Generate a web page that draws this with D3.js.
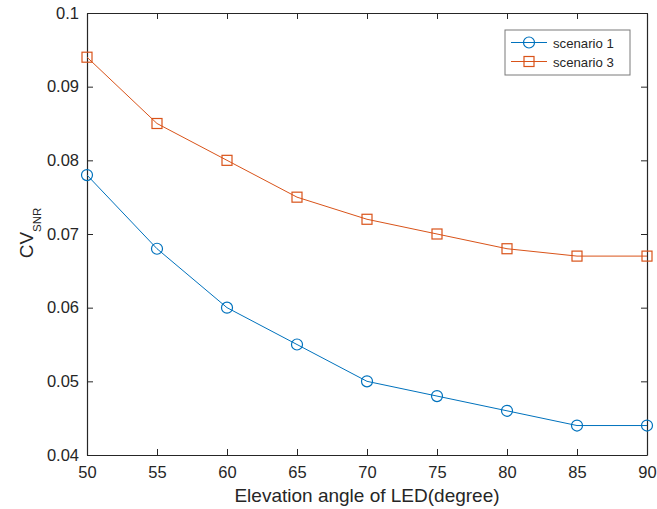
<!DOCTYPE html>
<html>
<head>
<meta charset="utf-8">
<script src="https://cdn.jsdelivr.net/npm/d3@7"></script>
<style>
body { margin: 0; background: #fff; }
text { font-family: "Liberation Sans", Arial, sans-serif; fill: #262626; }
</style>
</head>
<body>
<svg id="chart" width="657" height="509"></svg>
<script>
var angles = [50, 55, 60, 65, 70, 75, 80, 85, 90];
var scenario1 = [0.078, 0.068, 0.060, 0.055, 0.050, 0.048, 0.046, 0.044, 0.044];
var scenario3 = [0.094, 0.085, 0.080, 0.075, 0.072, 0.070, 0.068, 0.067, 0.067];
var xTicks = [50, 55, 60, 65, 70, 75, 80, 85, 90];
var yTicks = [0.04, 0.05, 0.06, 0.07, 0.08, 0.09, 0.1];

var svg = d3.select("#chart");
let plotLeft = 87, plotRight = 647, plotTop = 13, plotBottom = 455;

var x = d3.scaleLinear().domain([50, 90]).range([plotLeft, plotRight]);
var y = d3.scaleLinear().domain([0.04, 0.1]).range([plotBottom, plotTop]);

// axes with inward ticks, mirrored on top and right
svg.append("g")
	.attr("transform", `translate(0,${plotBottom})`)
	.call(d3.axisBottom(x).tickValues(xTicks).tickSizeInner(-6).tickSizeOuter(0).tickPadding(11))
	.call(g => g.selectAll("text").attr("font-size", 16.5).attr("dy", "0.71em"));
svg.append("g")
	.attr("transform", `translate(${plotLeft},0)`)
	.call(d3.axisLeft(y).tickValues(yTicks).tickFormat(d => String(+d.toFixed(2))).tickSizeInner(-6).tickSizeOuter(0).tickPadding(8))
	.call(g => g.selectAll("text").attr("font-size", 16.5));
svg.append("g")
	.attr("transform", `translate(0,${plotTop})`)
	.call(d3.axisTop(x).tickValues(xTicks).tickSizeInner(-6).tickSizeOuter(0).tickFormat(""));
svg.append("g")
	.attr("transform", `translate(${plotRight},0)`)
	.call(d3.axisRight(y).tickValues(yTicks).tickSizeInner(-6).tickSizeOuter(0).tickFormat(""));
svg.selectAll(".domain, .tick line").attr("stroke", "#262626").attr("stroke-width", 1);
svg.selectAll(".domain").attr("stroke-width", 1.2);

var line = d3.line().x((d, i) => x(angles[i])).y(d => y(d));

svg.append("path").datum(scenario1)
	.attr("d", line).attr("fill", "none").attr("stroke", "#0072BD").attr("stroke-width", 1);
svg.append("path").datum(scenario3)
	.attr("d", line).attr("fill", "none").attr("stroke", "#D95319").attr("stroke-width", 1);

svg.selectAll(".m1").data(scenario1).enter().append("circle")
	.attr("class", "m1")
	.attr("cx", (d, i) => x(angles[i])).attr("cy", d => y(d)).attr("r", 5.5)
	.attr("fill", "none").attr("stroke", "#0072BD").attr("stroke-width", 1.2);
svg.selectAll(".m3").data(scenario3).enter().append("rect")
	.attr("class", "m3")
	.attr("x", (d, i) => x(angles[i]) - 5).attr("y", d => y(d) - 5)
	.attr("width", 10).attr("height", 10)
	.attr("fill", "none").attr("stroke", "#D95319").attr("stroke-width", 1.2);

// axis titles
svg.append("text")
	.attr("x", (plotLeft + plotRight) / 2).attr("y", 502)
	.attr("text-anchor", "middle").attr("font-size", 19)
	.text("Elevation angle of LED(degree)");
var yt = svg.append("text")
	.attr("transform", "translate(33,233) rotate(-90)")
	.attr("text-anchor", "middle").attr("font-size", 19);
yt.append("tspan").text("CV");
yt.append("tspan").attr("font-size", 11.5).attr("dy", 8).text("SNR");

// legend
var lg = svg.append("g").attr("transform", "translate(505,30)");
lg.append("rect").attr("width", 125).attr("height", 45)
	.attr("fill", "#fff").attr("stroke", "#7a7a7a").attr("stroke-width", 1);
lg.append("line").attr("x1", 6).attr("x2", 42).attr("y1", 12.5).attr("y2", 12.5).attr("stroke", "#0072BD");
lg.append("circle").attr("cx", 24).attr("cy", 12.5).attr("r", 5.5)
	.attr("fill", "none").attr("stroke", "#0072BD").attr("stroke-width", 1.2);
lg.append("line").attr("x1", 6).attr("x2", 42).attr("y1", 31.5).attr("y2", 31.5).attr("stroke", "#D95319");
lg.append("rect").attr("x", 19).attr("y", 26.5).attr("width", 10).attr("height", 10)
	.attr("fill", "none").attr("stroke", "#D95319").attr("stroke-width", 1.2);
lg.append("text").attr("x", 48).attr("y", 17.5).attr("font-size", 13.2).text("scenario 1");
lg.append("text").attr("x", 48).attr("y", 36.5).attr("font-size", 13.2).text("scenario 3");
</script>
</body>
</html>
